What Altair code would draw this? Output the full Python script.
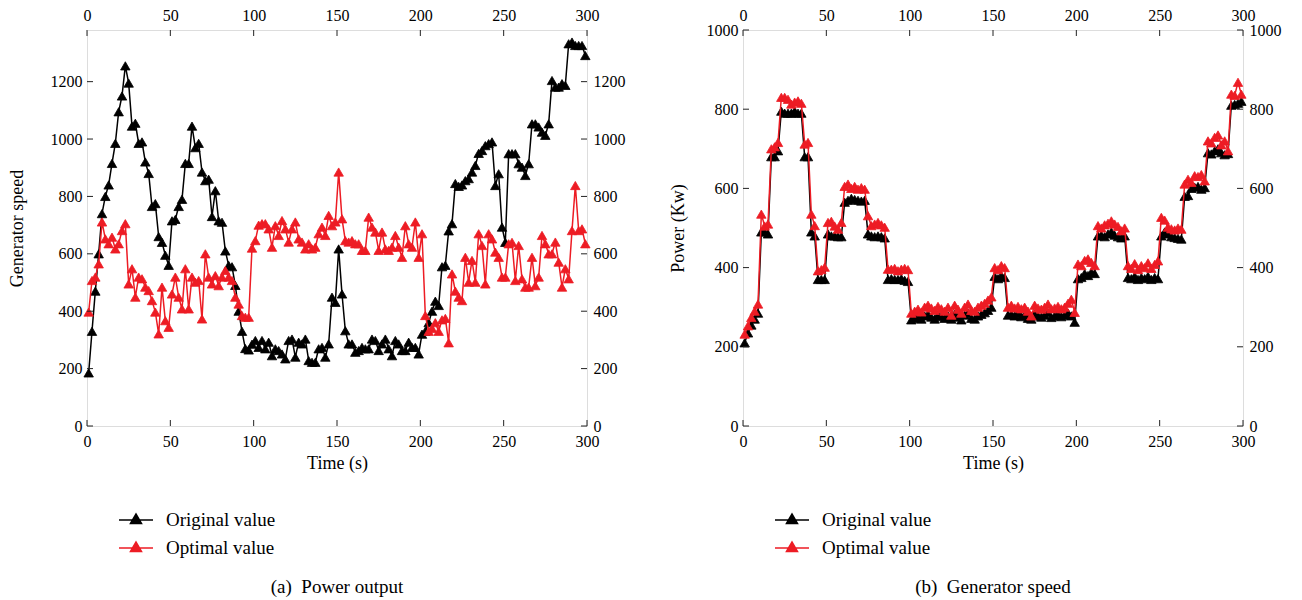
import altair as alt
import pandas as pd

FONT = "Liberation Serif"
RED = "#ed1c24"

# time stamps (s)
time = [1 + 2 * i for i in range(150)]

# (a) Power output
left_original = [
    185, 330, 470, 600, 740, 800, 840, 915, 985, 1095,
    1150, 1255, 1195, 1045, 1055, 985, 990, 920, 880, 765,
    775, 660, 640, 595, 560, 715, 720, 765, 790, 915,
    915, 1045, 970, 985, 885, 855, 860, 730, 820, 715,
    710, 610, 560, 555, 490, 400, 330, 270, 265, 285,
    298, 274, 298, 269, 292, 245, 269, 263, 251, 234,
    298, 303, 240, 292, 286, 303, 228, 222, 222, 269,
    274, 240, 286, 449, 431, 617, 460, 332, 286, 286,
    257, 263, 274, 269, 269, 303, 298, 263, 286, 303,
    269, 245, 298, 286, 263, 263, 292, 274, 274, 251,
    320, 330, 360, 400, 435, 420, 555, 560, 680, 705,
    845, 835, 840, 855, 862, 885, 908, 950, 960, 977,
    984, 990, 838, 879, 693, 640, 949, 949, 949, 914,
    902, 873, 914, 1053, 1053, 1042, 1024, 1013, 1053, 1204,
    1181, 1181, 1193, 1187, 1332, 1338, 1326, 1326, 1326, 1291,
]
left_optimal = [
    397, 507, 519, 565, 711, 652, 635, 658, 617, 635,
    681, 705, 495, 548, 449, 519, 513, 484, 472, 437,
    397, 321, 484, 367, 344, 460, 519, 449, 408, 548,
    408, 519, 501, 507, 373, 600, 519, 495, 524, 489,
    519, 542, 519, 507, 449, 425, 385, 379, 379, 620,
    646, 700, 705, 705, 687, 623, 698, 664, 716, 687,
    641, 687, 711, 652, 641, 617, 635, 617, 623, 670,
    693, 664, 734, 698, 711, 885, 722, 646, 641, 646,
    635, 635, 612, 612, 728, 693, 676, 612, 676, 617,
    612, 623, 664, 623, 588, 698, 635, 623, 711, 588,
    670, 385, 330, 340, 360, 330, 370, 375, 290, 530,
    470, 449, 437, 588, 501, 577, 501, 670, 629, 495,
    670, 652, 606, 588, 519, 519, 635, 640, 507, 629,
    513, 484, 484, 588, 489, 519, 664, 635, 600, 600,
    641, 571, 484, 548, 513, 681, 838, 681, 687, 635,
]

# (b) Generator speed
right_original = [
    210, 235, 255, 270, 285, 490, 490, 485, 680, 680,
    695, 795, 790, 790, 790, 795, 790, 790, 680, 680,
    490, 480, 370, 370, 370, 485, 480, 480, 478, 478,
    565, 570, 575, 572, 570, 568, 570, 485, 480, 478,
    480, 478, 475, 370, 372, 370, 370, 372, 368, 365,
    268, 272, 275, 270, 278, 282, 275, 270, 280, 276,
    272, 278, 270, 282, 275, 268, 280, 285, 272, 270,
    278, 282, 286, 292, 300, 378, 372, 380, 375, 280,
    282, 278, 285, 276, 280, 272, 270, 283, 278, 275,
    280, 286, 274, 278, 282, 276, 280, 285, 278, 262,
    372, 375, 385, 380, 388, 385, 480, 482, 478, 485,
    490, 482, 478, 475, 480, 375, 372, 378, 370, 375,
    372, 378, 370, 375, 372, 480, 490, 485, 478, 476,
    474, 472, 580, 582, 600, 603, 605, 598, 602, 690,
    687, 695, 700, 690, 685, 688, 810, 812, 815, 820,
]
right_optimal = [
    232, 253, 274, 290, 308, 535, 505, 510, 700, 705,
    716, 830, 830, 825, 813, 818, 821, 815, 712, 716,
    535, 506, 392, 395, 401, 514, 517, 505, 497, 514,
    605, 611, 600, 605, 598, 602, 598, 531, 506, 510,
    514, 508, 502, 396, 396, 398, 392, 396, 398, 395,
    285, 290, 295, 288, 300, 305, 298, 292, 302, 296,
    290, 300, 280, 305, 295, 285, 300, 308, 292, 290,
    300, 305, 310, 318, 326, 400, 395, 405, 400, 300,
    305, 298, 302, 296, 300, 290, 278, 305, 298, 295,
    300, 308, 296, 298, 302, 296, 300, 310, 320, 287,
    409, 405, 418, 422, 413, 405, 506, 500, 508, 512,
    518, 510, 504, 493, 500, 405, 398, 410, 395, 405,
    400, 412, 398, 408, 417, 527, 520, 502, 498, 495,
    500, 497, 611, 623, 615, 632, 630, 635, 619, 720,
    715, 729, 735, 710, 720, 695, 838, 835, 868, 838,
]

x_ticks = [0, 50, 100, 150, 200, 250, 300]
left_y_ticks = [0, 200, 400, 600, 800, 1000, 1200]
right_y_ticks = [0, 200, 400, 600, 800, 1000]
series_names = ["Original value", "Optimal value"]
series_colors = ["#000000", RED]

W, H = 500, 396
TICK = 6
LEG_PATH = "M-1.7,0L1.7,0M-0.55,0.35L0,-0.6L0.55,0.35Z"


def axis(orient, values, title=None, title_pad=0, label_pad=5):
    kw = dict(
        orient=orient, values=values, format="d", domain=False, ticks=False,
        grid=False, labelFont=FONT, labelFontSize=16, labelColor="black",
        labelPadding=label_pad, labelFlush=False, labelOverlap=False, labelBound=False,
    )
    if title is None:
        kw["title"] = None
    else:
        kw.update(title=title, titleFont=FONT, titleFontSize=18,
                  titleFontWeight="normal", titleColor="black",
                  titlePadding=title_pad)
    return alt.Axis(**kw)


def panel(orig, opt, y_max, y_ticks, y_title, y_title_pad, caption):
    df = pd.DataFrame({
        "time": time + time,
        "value": orig + opt,
        "series": [series_names[0]] * len(orig) + [series_names[1]] * len(opt),
    })
    xs = alt.Scale(domain=[0, 300], nice=False, zero=False)
    ys = alt.Scale(domain=[0, y_max], nice=False, zero=False)
    cs = alt.Scale(domain=series_names, range=series_colors)
    leg = alt.Legend(
        title=None, orient="none", legendX=38, legendY=H + 83,
        symbolType=LEG_PATH, symbolSize=400, symbolStrokeWidth=1.5,
        labelFont=FONT, labelFontSize=19, labelColor="black",
        rowPadding=7, labelOffset=19,
    )
    base = alt.Chart(df)
    layers = []
    for i, (name, col) in enumerate(zip(series_names, series_colors)):
        sub = base.transform_filter(alt.datum.series == name)
        if i == 0:
            xe = alt.X("time:Q", scale=xs,
                       axis=axis("bottom", x_ticks, "Time (s)", 5, label_pad=7))
            ye = alt.Y("value:Q", scale=ys, axis=axis("left", y_ticks, y_title, y_title_pad))
        else:
            xe = alt.X("time:Q", scale=xs, axis=None)
            ye = alt.Y("value:Q", scale=ys, axis=None)
        line = sub.mark_line(color=col, strokeWidth=1.5).encode(x=xe, y=ye)
        pts = sub.mark_point(shape="triangle-up", filled=True, size=90,
                             opacity=1, strokeWidth=0.8).encode(
            x=alt.X("time:Q", scale=xs, axis=None),
            y=alt.Y("value:Q", scale=ys, axis=None),
            fill=alt.Fill("series:N", scale=cs, legend=leg),
            stroke=alt.Stroke("series:N", scale=cs, legend=leg),
        )
        layers += [line, pts]

    xt = alt.Chart(pd.DataFrame({"tick": x_ticks}))
    yt = alt.Chart(pd.DataFrame({"tick": y_ticks}))
    layers.append(xt.mark_rule(color="#222", strokeWidth=1).encode(
        x=alt.X("tick:Q", scale=xs, axis=None), y=alt.value(H), y2=alt.value(H - TICK)))
    layers.append(xt.mark_rule(color="#222", strokeWidth=1).encode(
        x=alt.X("tick:Q", scale=xs, axis=axis("top", x_ticks, label_pad=7)),
        y=alt.value(0), y2=alt.value(TICK)))
    layers.append(yt.mark_rule(color="#222", strokeWidth=1).encode(
        y=alt.Y("tick:Q", scale=ys, axis=None), x=alt.value(0), x2=alt.value(TICK)))
    layers.append(yt.mark_rule(color="#222", strokeWidth=1).encode(
        y=alt.Y("tick:Q", scale=ys, axis=axis("right", y_ticks, label_pad=6)),
        x=alt.value(W), x2=alt.value(W - TICK)))

    return alt.layer(*layers).resolve_axis(x="independent", y="independent").properties(
        width=W, height=H,
        title=alt.TitleParams(text=caption, orient="bottom", font=FONT, fontSize=19,
                              fontWeight="normal", color="black", anchor="middle", offset=20),
    )


left = panel(left_original, left_optimal, 1380, left_y_ticks, "Generator speed", 24,
             "(a)\u00a0\u00a0Power output")
right = panel(right_original, right_optimal, 1000, right_y_ticks, "Power (Kw)", 19,
              "(b)\u00a0\u00a0Generator speed")

chart = alt.hconcat(left, right, spacing=42).resolve_scale(
    fill="independent", stroke="independent"
).properties(
    padding={"left": -1, "top": -2, "right": 5, "bottom": 5}
).configure_view(stroke="#222", strokeWidth=1.2).configure(background="white")

chart.save("out.html", embed_options={"renderer": "svg", "actions": False})
